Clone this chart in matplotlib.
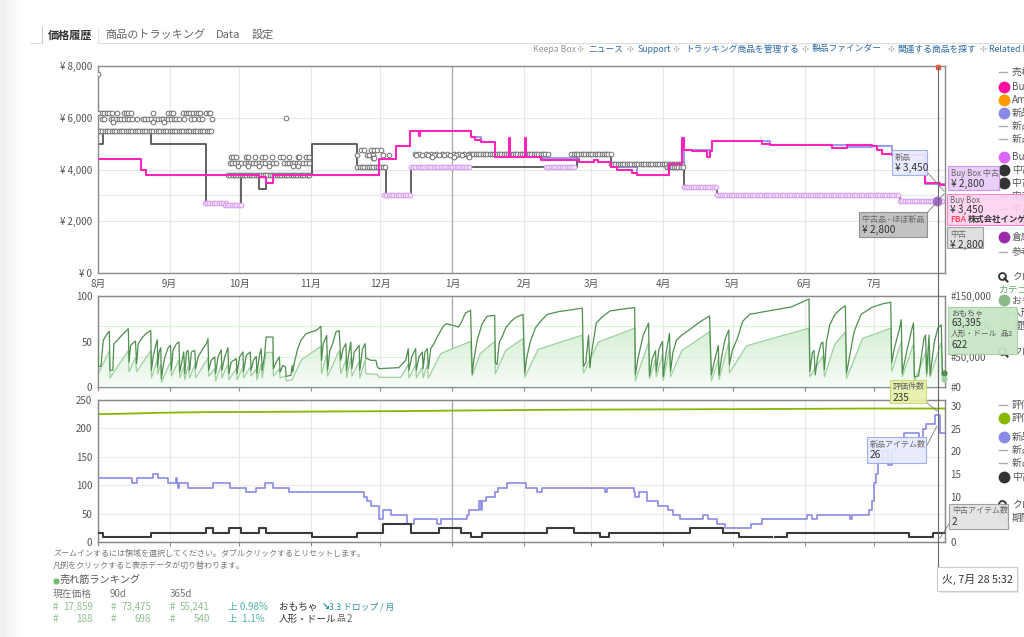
import numpy as np
import pandas as pd
import matplotlib
matplotlib.use('Agg')
import matplotlib.pyplot as plt
from matplotlib.patches import Rectangle
from matplotlib.lines import Line2D
from matplotlib.colors import LinearSegmentedColormap

plt.rcParams['font.family'] = ['Noto Sans CJK JP', 'DejaVu Sans']

# ---------------- data ----------------
start = pd.Timestamp('2019-08-01')
month_starts = pd.date_range('2019-08-01', '2020-07-01', freq='MS')
month_days = [(m - start).days for m in month_starts]
month_labels = [f'{m.month}月' for m in month_starts]
cursor_day = (pd.Timestamp('2020-07-28 05:32') - start) / pd.Timedelta(days=1)
x_end = 365.6

# Buy Box price (steps)
buybox_days = [0, 18.8, 20.8, 69.8, 72.7, 75.6, 121.4, 128.9, 134.8, 138.6, 139.2, 161, 163, 165.2,
               171.3, 177.3, 177.8, 184.3, 184.8, 191.2, 207.7, 214.2, 216, 221.3, 224.2, 230.7,
               232.8, 246.5, 252.3, 252.8, 256.5, 263, 264, 265.2, 286.7, 290.3, 316.8, 323.3,
               334, 336.2, 338.3, 342.6, 357, 363.4, 366]
buybox_prices = [4400, 4000, 3800, 3700, 3480, 3800, 4400, 4900, 5500, 5300, 5500, 5250, 5150, 5050,
                 4480, 5200, 4480, 5200, 4480, 4380, 4290, 4350, 4290, 4100, 3970, 3870,
                 3800, 4220, 5200, 4770, 4700, 4480, 4700, 5100, 5000, 4960, 4830, 4960,
                 4900, 4740, 4610, 4550, 3480, 3390, 3390]

# 新品 price (mostly hidden below the Buy Box)
new_days = [0, 18.8, 20.8, 121.4, 128.9, 134.8, 161, 165.2, 171.3, 191.2, 207.7, 214, 216, 221.3,
            232.8, 246.5, 252.9, 265.2, 290.3, 323.3, 334, 342.6, 357, 366]
new_prices = [4400, 4000, 3800, 4400, 4900, 5500, 5250, 5050, 4480, 4450, 4290, 4350, 4290, 4100,
              3800, 4220, 4770, 5100, 4960, 4870, 4900, 4550, 3450, 3450]

# 中古 price (steps)
used_days = [0, 2.4, 22.8, 46.9, 54.8, 61.9, 69.8, 72.7, 92.3, 111.7, 124.3, 135, 206.9, 221.3,
             252.9, 267.3, 346.2, 366]
used_prices = [5000, 5500, 5000, 2700, 2620, 3800, 3250, 3800, 5000, 4100, 3000, 4100, 4600, 4230,
               3320, 3000, 2750, 2750]

# 中古 offers, rows of daily points (start day, end day, price)
used_rows = [(0, 49.7, 5500), (56.2, 92.0, 3800), (112.0, 124.3, 4100), (160.1, 194.1, 4600),
             (204.4, 222.0, 4600), (221.3, 252.9, 4230), (245.6, 252.9, 4100)]
# scattered 中古 offers, grouped by price
off_7700 = [0.3]
off_6200 = [0.7, 1.7, 2.9, 3.9, 5.0, 6.0, 8.5, 11.3, 12.2, 13.2, 14.2, 23.7, 30.4, 31.5, 32.5,
            36.8, 37.9, 39.0, 40.0, 41.1, 42.2, 43.3, 44.3, 46.9, 47.9, 48.6]
off_6000 = [81.3]
off_5950 = [1.7, 2.7, 5.6, 6.7, 7.9, 9.0, 10.2, 11.3, 12.5, 13.6, 14.8, 17.1, 19.4, 20.5, 21.6,
            22.8, 24.8, 25.9, 27.1, 28.2, 29.4, 30.5, 31.7, 32.8, 34.0, 35.1, 37.3, 40.4, 41.4,
            43.7, 44.9, 49.2]
off_5850 = [6.5, 24.0, 28.5]
off_4750 = [113.5, 115.0, 117.8, 119.3, 120.7, 122.2]
off_4600 = [136.9, 138.6, 141.5, 143.7, 145.8, 148.7, 150.8, 153.7, 155.9, 158.0]
off_4550 = [112.1, 116.4, 117.1, 118.6, 122.9, 125.7, 137.2, 140.0, 142.5, 145.0, 147.3, 149.4,
            152.0, 154.6, 157.0, 159.6]
off_4500 = [57.6, 58.4, 59.8, 64.1, 64.8, 67.7, 71.0, 72.0, 75.3, 78.8, 79.9, 82.7, 86.3, 87.0,
            89.8, 91.0]
off_4480 = [144.4, 153.7, 160.1]
off_4450 = [118.6, 119.3]
off_4250 = [56.9, 58.1, 59.1, 60.5, 61.9, 63.4, 64.8, 65.8, 67.0, 68.4, 69.8, 71.0, 72.0, 74.1,
            75.6, 77.0, 80.6, 81.6, 82.7, 83.9, 84.9, 85.9, 87.0, 88.5, 89.9, 91.3]
off_4150 = [60.5, 64.8, 69.8, 74.1, 84.2, 86.3]

# Buy Box 中古 offers, rows of daily points
bb_used_rows = [(46.2, 55.5, 2700), (54.8, 62.7, 2620), (123.6, 135, 3000), (135, 160.9, 4100),
                (193.4, 205.6, 4100), (252.9, 267.3, 3320), (267.3, 346.2, 3000), (346.2, 365, 2800)]

# sales rank おもちゃ (day, rank in thousands)
toy_rank = [
    (0, 77), (0.3, 34), (1.4, 34), (2.4, 77), (3.6, 85), (5.0, 92),
    (5.3, 27.5), (6.5, 27.5), (7.0, 71.5), (8.5, 77), (10.3, 85), (11.8, 90.7), (13.2, 96),
    (13.5, 41), (14.2, 68.7), (16.3, 75.8),
    (16.8, 38.5), (17.5, 71.5), (18.9, 79.7), (20.8, 88), (22.9, 93),
    (23.2, 27.5), (23.9, 49.5), (24.7, 63.2), (25.7, 78),
    (25.9, 33), (26.5, 57.7), (27.2, 64.8),
    (27.5, 13.7), (28.2, 33), (29, 49.5), (30.4, 64.8), (31.4, 68.7),
    (31.8, 27.5), (32.5, 60.4), (34, 71.5), (35.1, 74),
    (35.4, 24.7), (36.6, 46.7), (37.1, 57.7),
    (37.6, 22), (38.3, 57.7), (39.0, 60.4),
    (39.7, 27.5), (40.4, 57.7), (41.9, 60.4),
    (42.3, 30.2), (43.3, 49.5), (45.4, 63.2), (46.9, 71.5), (47.6, 79.7),
    (47.9, 27.5), (49, 44), (50.5, 49.5),
    (50.9, 22), (51.9, 49.5), (53.3, 61.5),
    (53.6, 27.5), (54.8, 49.5), (56.2, 64.8),
    (56.6, 22), (57.6, 41), (59.8, 46.7),
    (60.1, 22), (61.2, 49.5), (62.7, 57.7),
    (62.9, 24.7), (64.1, 52.2), (65.8, 57.7),
    (66.2, 27.5), (67.2, 44), (68.4, 50.5),
    (68.7, 22), (69.8, 52.2), (70.5, 63.2),
    (71, 27.5), (72, 52.2), (72.7, 82.4), (75.6, 82.4),
    (75.8, 30.2), (77, 41), (78.4, 49.5),
    (78.7, 24.7), (79.9, 35.7), (81, 33),
    (81.3, 17.6), (83.4, 19.2), (83.9, 35.7),
    (84.2, 24.7), (84.9, 41), (86.3, 63.2), (87.7, 77), (89.9, 88), (92, 90.7), (94.2, 93), (96.3, 100),
    (96.6, 44), (97.3, 71.5), (98.8, 85),
    (99.2, 27.5), (100.2, 60.4), (101.4, 71.5), (102.8, 90.7), (104.2, 93),
    (104.9, 44), (105.9, 63.2), (107.1, 71.5),
    (107.4, 27.5), (108.2, 52.2), (109.2, 74),
    (109.7, 30.2), (110.7, 57.7), (112.8, 68.7),
    (113.1, 27.5), (114.3, 63.2), (115.4, 71.5),
    (115.7, 46.7), (116.4, 46.7), (117.8, 44), (120, 44),
    (120.7, 33), (121.4, 30.2), (130, 31.9),
    (130.8, 35.7), (132.9, 44), (134, 63.2),
    (134.3, 27.5), (135.5, 49.5), (137.2, 63.2),
    (137.5, 27.5), (138.6, 49.5), (140.1, 57.7),
    (140.4, 30.2), (141.2, 57.7), (142.2, 63.2),
    (142.7, 30.2), (143.7, 63.2), (145.1, 71.5), (146.5, 82.4), (148, 93), (149.4, 101.6),
    (150.8, 104.4), (153, 101.6), (155.6, 98.9), (156.6, 104.4), (158.7, 122), (160.9, 126.4),
    (161.6, 22), (162.3, 44), (163.7, 77), (165.9, 104.4), (168, 116.5), (171.3, 118.1),
    (171.6, 40), (172.3, 37), (173.3, 74), (174.5, 82.7), (176, 97), (178.3, 108), (180.5, 115), (183.5, 119.7),
    (184.3, 22.8), (185, 45.6), (186.6, 74), (188.8, 97), (191, 108), (194, 119.7), (198.6, 124),
    (203.1, 126.5), (209.1, 130),
    (209.6, 34), (210.6, 40), (211.8, 85.5), (212.4, 31.4), (212.9, 51.3), (215.1, 105.5), (218.1, 117),
    (221.1, 125.4), (225.7, 128), (231.7, 131),
    (232, 20), (233.2, 48.5), (235.4, 85.5), (237.7, 105.5),
    (238.1, 18.2), (239.2, 45.6), (240.7, 60),
    (241, 25.7), (242.2, 62.7), (243.7, 75.2),
    (244, 17), (245.2, 54), (246.7, 88.4),
    (247.2, 25.7), (248.2, 57), (249.7, 77), (252, 85.5), (254.2, 91.2), (257.2, 99.8), (260.2, 108.3), (264, 117),
    (264.8, 20), (266.3, 45.6), (267.8, 68.4),
    (268.1, 20), (269.3, 51.3), (270.8, 79.8), (272.3, 94),
    (272.6, 37), (273.8, 60), (276, 79.8), (278.3, 108.3), (281.3, 119.7), (287.3, 124), (293.3, 128),
    (299.3, 132), (303.8, 139.7), (306.9, 145),
    (307.3, 25.7), (308.4, 57), (309.1, 60),
    (309.6, 20), (310.6, 48.5), (312.1, 71.3), (312.9, 74),
    (313.6, 28.5), (314.4, 74), (315.9, 102.6), (318.1, 119.7), (320.4, 128), (322.6, 134),
    (323.1, 22.8), (324.2, 45.6), (326.4, 91.2), (329.4, 119.7), (333.9, 131), (338.4, 136.8), (342.2, 139.7),
    (342.6, 40), (343.7, 62.7), (346, 97), (346.7, 111),
    (347.2, 22.8), (349, 57), (351.2, 94), (352, 105.5),
    (352.4, 17), (354.2, 18.2), (355, 40), (356.5, 79.8), (357.2, 85.5),
    (357.7, 22.8), (358.7, 85.5),
    (359.2, 20), (361, 74), (362.5, 97), (364, 102.6),
    (364.5, 22.8), (365.5, 22.8)]

# sales rank 人形・ドール (day, rank in the shared scale)
doll_rank = [
    (0, 52), (0.3, 22), (5.0, 60), (5.3, 15), (13.2, 60), (13.5, 25), (16.3, 48), (16.8, 25),
    (22.9, 60), (23.2, 15), (25.7, 45), (25.9, 22), (27.2, 37), (27.5, 8), (31.4, 42), (31.8, 18),
    (35.1, 45), (35.4, 15), (37.1, 33), (37.6, 12), (39.0, 35), (39.7, 15), (41.9, 37), (42.3, 15),
    (47.6, 48), (47.9, 18), (50.5, 30), (50.9, 10), (53.3, 37), (53.6, 15), (56.2, 38), (56.6, 12),
    (59.8, 30), (60.1, 12), (62.7, 33), (62.9, 15), (65.8, 33), (66.2, 18), (68.4, 30), (68.7, 12),
    (70.5, 37), (71, 15), (72.7, 57), (75.6, 57), (75.8, 18), (78.4, 30), (78.7, 15), (81, 18),
    (81.3, 10), (83.9, 12), (84.2, 15), (88, 45), (96.3, 67), (96.6, 22), (98.8, 54), (99.2, 18),
    (104.2, 60), (104.9, 22), (107.1, 45), (107.4, 15), (109.2, 48), (109.7, 18), (112.8, 42),
    (113.1, 15), (115.4, 45), (115.7, 22), (120.7, 21), (121.4, 16), (130.8, 16), (134, 37),
    (134.3, 15), (137.2, 37), (137.5, 15), (140.1, 33), (140.4, 15), (142.2, 37), (142.7, 15),
    (148, 55), (153, 63), (160.9, 75), (161.6, 18), (165, 55), (171.3, 75), (171.6, 22), (176, 60),
    (183.5, 80), (184.3, 16), (190, 62), (209.1, 85.5), (209.6, 23), (216, 74), (231.7, 97),
    (232, 10), (237.7, 74), (238.1, 14), (240.7, 45.6), (241, 17), (243.7, 54), (244, 11),
    (246.7, 62.7), (247.2, 17), (252, 60), (264, 91), (264.8, 10), (267.8, 45.6), (268.1, 12.5),
    (272.3, 74), (272.6, 23), (280, 68), (306.9, 97), (307.3, 17), (312.9, 51), (313.6, 17),
    (318, 70), (322.6, 91), (323.1, 14), (330, 80), (342.2, 97), (342.6, 25.6), (346.7, 74),
    (347.2, 17), (352, 71), (352.4, 8.5), (357.2, 57), (357.7, 17), (358.7, 57), (359.2, 17),
    (364, 74), (364.5, 12.5), (365.5, 12.5)]

# 評価件数 (left axis)
rating_days = [0, 7, 18, 27, 44, 133, 157, 205, 284, 332, 366]
rating_counts = [225, 225.5, 226.5, 227.5, 228.5, 230.5, 231.5, 233, 234, 235, 235]

# 新品アイテム数 (right axis, steps)
new_cnt_days = [0, 14.6, 16.8, 23.9, 26.1, 30.4, 33.7, 34.2, 34.7, 35.2, 39, 49.7, 56.9, 64.1,
                68.4, 72, 75.6, 82.7, 115, 116.4, 117.8, 121.4, 122.9, 126.5, 133.6, 136.5,
                146.5, 148, 159.4, 160.1, 164.4, 165.3, 166, 167.6, 171.3, 172.8, 176.6, 184.8,
                189.4, 191.7, 219.1, 219.6, 231.2, 231.9, 233.4, 237.2, 241.6, 246.1, 248.4,
                251.4, 261.1, 263.3, 267.1, 270.8, 282, 286.5, 305.9, 308.2, 310.4, 324.6,
                325.3, 332.8, 334.3, 335.1, 335.8, 336.6, 338.8, 341.1, 342.6, 344.1, 347.1,
                347.8, 354.5, 356, 357.5, 361.2, 363.5, 366]
new_cnt = [14, 13, 14, 15, 14, 13, 14, 13, 12, 13, 12, 13, 12, 11,
           12, 13, 12, 11, 10, 9, 8, 5, 7, 6, 4, 5,
           4, 5, 6, 7, 9, 7, 9, 10, 11, 12, 13, 12,
           11, 12, 11, 12, 11, 10, 11, 9, 8, 7, 6,
           5, 6, 5, 4, 3, 4, 5, 6, 5, 6, 5,
           6, 7, 9, 13, 15, 18, 20, 17, 20, 22, 23,
           24, 23, 25, 26, 28, 24, 24]

# 中古アイテム数 (right axis, steps)
used_cnt_days = [0, 2.4, 22.8, 46.9, 49.7, 56.6, 61.9, 69.8, 72.7, 92.3, 111.7, 122.9, 135, 147.2,
                 156.6, 160.9, 165.9, 193.7, 205.6, 216.8, 220.6, 255.7, 269.9, 276.6, 290.8,
                 292.3, 297.6, 350, 360.5, 366]
used_cnt = [2, 1, 2, 3, 2, 3, 2, 3, 2, 1, 2, 4, 2, 3, 2, 1, 2, 3, 2, 1, 2, 3, 2, 1, np.nan,
            1, 2, 1, 2, 2]

# ranking table under the chart
rank_now = ['17,859', '188']
rank_90d = ['73,475', '698']
rank_365d = ['55,241', '540']
rank_change = ['上 0.98%', '上  1.1%']
rank_category = ['おもちゃ', '人形・ドール']

# ---------------- figure ----------------
W, H = 1024, 637
fig = plt.figure(figsize=(W / 100, H / 100), dpi=100)


def fx(x):
    return x / W


def fy(y):
    return 1 - y / H


def rect(x0, y0, x1, y1):
    return [fx(x0), fy(y1), (x1 - x0) / W, (y1 - y0) / H]


def txt(x, y, s, size=7, color='#555555', **kw):
    kw.setdefault('va', 'center')
    return fig.text(fx(x), fy(y), s, fontsize=size, color=color, **kw)


def fline(xs, ys, color, lw=0.8, z=5, **kw):
    fig.add_artist(Line2D([fx(v) for v in xs], [fy(v) for v in ys], color=color, lw=lw,
                          zorder=z, transform=fig.transFigure, **kw))


def fbox(x0, y0, x1, y1, fc, ec, z=20, alpha=1.0, lw=0.8):
    fig.add_artist(Rectangle((fx(x0), fy(y1)), (x1 - x0) / W, (y1 - y0) / H,
                             transform=fig.transFigure, facecolor=fc, edgecolor=ec, lw=lw,
                             zorder=z, alpha=alpha))


def tooltip(x0, y0, x1, y1, fc, ec, label, value):
    fbox(x0, y0, x1, y1, fc, ec, alpha=0.92)
    txt(x0 + 3, y0 + 7, label, size=5.8, color='#666666', zorder=21)
    txt(x0 + 3, y0 + 18, value, size=7.3, color='#333333', zorder=21)


def style(ax, labels=False):
    ax.set_xlim(0, x_end)
    ax.set_xticks(month_days)
    ax.grid(axis='x', color='#e8e8e8', lw=0.8)
    ax.axvline(month_days[5], color='#a8a8a8', lw=0.9, zorder=1)
    for s in ax.spines.values():
        s.set_color('#8a8a8a')
        s.set_linewidth(1.0)
    ax.tick_params(axis='y', length=0, pad=4, labelsize=7, labelcolor='#555555')
    if labels:
        ax.set_xticklabels(month_labels)
        ax.tick_params(axis='x', length=0, pad=4, labelsize=7, labelcolor='#555555')
    else:
        ax.set_xticklabels([])
        ax.tick_params(axis='x', length=3, color='#8a8a8a')
    ax.set_axisbelow(True)


# ---- price panel ----
ax1 = fig.add_axes(rect(97.7, 66, 945, 273))
style(ax1, labels=True)
ax1.set_ylim(0, 8000)
ax1.set_yticks([0, 2000, 4000, 6000, 8000])
ax1.set_yticklabels([f'¥ {v:,}' for v in [0, 2000, 4000, 6000, 8000]])
ax1.grid(axis='y', color='#e8e8e8', lw=0.8)
ax1.axhline(3000, color='#e8e8e8', lw=0.8, zorder=0)


def expand(rows):
    xs, ys = [], []
    for a, b, v in rows:
        d = np.arange(a, b + 0.01, 1.0)
        xs.extend(d)
        ys.extend([v] * len(d))
    return xs, ys


gx, gy = expand(used_rows)
for price, days in [(7700, off_7700), (6200, off_6200), (6000, off_6000), (5950, off_5950),
                    (5850, off_5850), (4750, off_4750), (4600, off_4600), (4550, off_4550),
                    (4500, off_4500), (4480, off_4480), (4450, off_4450), (4250, off_4250),
                    (4150, off_4150)]:
    gx.extend(days)
    gy.extend([price] * len(days))
vx, vy = expand(bb_used_rows)

ax1.plot(used_days, used_prices, drawstyle='steps-post', color='#555555', lw=1.3, zorder=2)
ax1.plot(new_days, new_prices, drawstyle='steps-post', color='#8a8ae6', lw=1.2, zorder=2.5)
ax1.plot(gx, gy, ls='none', marker='o', ms=3.4, mfc='white', mec='#6e6e6e', mew=0.7, zorder=3)
ax1.plot(vx, vy, ls='none', marker='o', ms=3.4, mfc='#f7e6fc', mec='#d59ef0', mew=0.7, zorder=3.2)
ax1.plot(buybox_days, buybox_prices, drawstyle='steps-post', color='#ff22bb', lw=1.5, zorder=4)
ax1.plot([cursor_day], [2800], marker='o', ms=6, color='#a66ad0', zorder=5)
ax1.plot([cursor_day + 0.2], [7960], marker='s', ms=3, color='#ff5a3c', zorder=5, clip_on=False)

# ---- sales rank panel ----
ax2 = fig.add_axes(rect(97.7, 296, 945, 387))
style(ax2)
ax2.set_ylim(0, 100)
ax2.set_yticks([0, 50, 100])
ax2r = ax2.twinx()
ax2r.set_xlim(0, x_end)
ax2r.set_ylim(0, 150)
ax2r.set_yticks([0, 50, 100, 150])
ax2r.set_yticklabels(['#0', '#50,000', '#100,000', '#150,000'])
ax2r.tick_params(axis='y', length=0, pad=4, labelsize=7, labelcolor='#555555')
ax2r.grid(axis='y', color='#d9f2d9', lw=0.8)
for s in ax2r.spines.values():
    s.set_color('#8a8a8a')

tx = [p[0] for p in toy_rank]
ty = [p[1] for p in toy_rank]
dx = [p[0] for p in doll_rank]
dy = [p[1] for p in doll_rank]
poly = ax2r.fill_between(dx, dy, 0, facecolor='none', edgecolor='none')
cm = LinearSegmentedColormap.from_list('g', ['#f6fcf6', '#c5e8c5'])
img = ax2r.imshow(np.linspace(0, 1, 256).reshape(-1, 1), cmap=cm, aspect='auto', origin='lower',
                  extent=[0, x_end, 0, 150], zorder=1)
img.set_clip_path(poly.get_paths()[0], transform=ax2r.transData)
ax2r.plot(dx, dy, color='#9fd09f', lw=0.9, zorder=2)
ax2r.plot(tx, ty, color='#4f8f4f', lw=0.9, zorder=3)
ax2r.plot([x_end - 0.3], [ty[-1]], marker='o', ms=3.5, color='#4f8f4f', clip_on=False, zorder=4)
ax2r.plot([x_end - 0.3], [dy[-1]], marker='o', ms=3.5, color='#9fd09f', clip_on=False, zorder=4)
ax2r.set_xlim(0, x_end)
ax2r.set_ylim(0, 150)

# ---- counts panel ----
ax3 = fig.add_axes(rect(97.7, 400, 945, 542))
style(ax3)
ax3.set_ylim(0, 250)
ax3.set_yticks([0, 50, 100, 150, 200, 250])
ax3.grid(axis='y', color='#ececec', lw=0.8)
ax3r = ax3.twinx()
ax3r.set_xlim(0, x_end)
ax3r.set_ylim(0, 31.3)
ax3r.set_yticks([0, 5, 10, 15, 20, 25, 30])
ax3r.tick_params(axis='y', length=0, pad=4, labelsize=7, labelcolor='#555555')
for s in ax3r.spines.values():
    s.set_color('#8a8a8a')
ax3.plot(rating_days, rating_counts, color='#88b800', lw=1.3, zorder=3)
ax3r.plot(new_cnt_days, new_cnt, drawstyle='steps-post', color='#8a8ae6', lw=1.2, zorder=3)
ax3r.plot(used_cnt_days, used_cnt, drawstyle='steps-post', color='#3a3a3a', lw=1.5, zorder=3)

# ---------------- header ----------------
for i, c in enumerate(['#efefef', '#f3f3f3', '#f7f7f7', '#fbfbfb']):
    fbox(i * 5, 0, i * 5 + 5, 637, c, 'none', z=0, lw=0)
fline([30, 42], [43, 43], '#dddddd')
fline([98, 1024], [43, 43], '#dddddd')
fline([42, 42], [27, 43], '#cccccc')
fline([98, 98], [27, 43], '#e4e4e4')
txt(48, 35, '価格履歴', size=8, color='#333333', fontweight='bold')
txt(105, 35, '商品のトラッキング', size=8, color='#666666')
txt(216, 35, 'Data', size=8, color='#666666')
txt(252, 35, '設定', size=8, color='#666666')

links = [(533, 'Keepa Box', '#999999'), (588, 'ニュース', '#2f6aa6'), (638, 'Support', '#2f6aa6'),
         (685, 'トラッキング商品を管理する', '#2f6aa6'), (812, '製品ファインダー', '#2f6aa6'),
         (897, '関連する商品を探す', '#2f6aa6'), (989, 'Related Books', '#2f6aa6')]
for x, s, c in links:
    txt(x, 49, s, size=6.3, color=c)
for x in [577, 627, 673, 802, 888, 980]:
    txt(x, 49, '✣', size=6, color='#b0b0b0', family=['DejaVu Sans'])

# ---------------- legend on the right (cut off) ----------------
legend_items = [
    (72, 'line', '売れ筋ランキング'), (87, '#ff0aa0', 'Buy Box'), (100, '#ff9900', 'Amazon'),
    (113, '#8a8ae6', '新品'), (126, 'line', '新品 FBA'), (139, 'line', '新品 出品者'),
    (157, '#dd66ff', 'Buy Box 中古'), (170, '#333333', '中古'), (183, '#333333', '中古 - ほぼ新品'),
    (196, 'line', '中古 - 非常に良い'), (209, 'line', '中古 - 良い'), (222, 'line', '中古 - 可'),
    (237, '#9a2aaa', '倉庫'), (252, 'line', '参考価格'), (277, 'mag', 'クローズアップ'),
    (300, '#88bb88', 'おもちゃ'), (313, '#cfe8cf', '人形・ドール'), (326, '#eef0a0', '閲覧'),
    (352, 'mag', 'クローズアップ'),
    (405, 'line', '評価'), (418, '#88b800', '評価件数'), (437, '#8a8ae6', '新品アイテム数'),
    (450, 'line', '新品 FBA'), (463, 'line', '新品 FBM'), (477, '#333333', '中古アイテム数'),
    (505, 'mag', 'クローズアップ'), (518, 'cal', '期間')]
for y, kind, s in legend_items:
    if kind == 'line':
        fline([999, 1007], [y, y], '#aaaaaa', lw=1.0)
    elif kind == 'mag':
        fig.add_artist(Line2D([fx(1002)], [fy(y - 1)], marker='o', ms=5, mfc='none', mec='#333333',
                              mew=1.3, transform=fig.transFigure, zorder=5))
        fline([1004.5, 1007.5], [y + 1.5, y + 4.5], '#333333', lw=1.5)
    elif kind == 'cal':
        fbox(998, y - 4, 1007, y + 4, '#eeeeee', '#bbbbbb', z=5, lw=0.6)
    else:
        fig.add_artist(Line2D([fx(1003.5)], [fy(y)], marker='o', ms=7.5, color=kind,
                              transform=fig.transFigure, zorder=5))
    txt(1012, y, s, size=7, color='#555555', zorder=5)
txt(999, 289, 'カテゴリ', size=7, color='#6aaa6a', zorder=5)

# ---------------- tooltips ----------------
fline([937.5, 937.5], [66, 567], '#666666', lw=0.8, z=10)
tooltip(892, 150, 927, 175, '#e8ebff', '#9aa8ee', '新品', '¥ 3,450')
tooltip(859, 212, 927, 237, '#bdbdbd', '#8a8a8a', '中古品 - ほぼ新品', '¥ 2,800')
fline([927, 944], [172, 191], '#777777', lw=0.6, z=19)
fline([927, 944], [213, 194], '#777777', lw=0.6, z=19)
tooltip(948, 166, 999, 190, '#e8ccfa', '#c890ee', 'Buy Box 中古', '¥ 2,800')
fbox(947, 194, 1030, 225, '#ffd2ee', '#ff77cc', alpha=0.9)
txt(950, 200, 'Buy Box', size=5.8, color='#666666', zorder=21)
txt(950, 210, '¥ 3,450', size=7.3, color='#333333', zorder=21)
txt(950, 219.5, 'FBA', size=6, color='#ff4d6d', fontweight='bold', zorder=21)
txt(968, 219.5, '株式会社インゲート', size=6, color='#333333', fontweight='bold', zorder=21)
tooltip(947, 227, 983, 248, '#dddddd', '#999999', '中古', '¥ 2,800')

fbox(948, 307, 1017, 354, '#c6e6c6', '#a8d0a8', alpha=0.93)
txt(951, 313, 'おもちゃ', size=5.8, color='#555555', zorder=21)
txt(951, 323, '63,395', size=7.0, color='#333333', zorder=21)
txt(951, 334, '人形・ドール', size=5.6, color='#555555', zorder=21)
txt(1000, 334, '品', size=5.3, color='#555555', zorder=21)
txt(1008, 334, '2', size=5.5, color='#555555', zorder=21)
txt(951, 345, '622', size=7.0, color='#333333', zorder=21)

tooltip(890, 380, 926, 403, '#e8f0a8', '#c8d870', '評価件数', '235')
fline([926, 937], [402, 411], '#777777', lw=0.6, z=19)
tooltip(867, 437, 926, 463, '#e8ebff', '#9aa8ee', '新品アイテム数', '26')
fline([926, 937], [447, 426], '#777777', lw=0.6, z=19)
tooltip(949, 504, 1008, 529, '#e2e2e2', '#999999', '中古アイテム数', '2')
fline([949, 940], [524, 538], '#777777', lw=0.6, z=19)

fbox(939, 569, 1019, 593, '#dddddd', 'none', z=19, alpha=0.6)
fbox(937, 567, 1017, 591, 'white', '#cccccc', z=20)
txt(942, 579, '火, 7月 28 5:32', size=7.8, color='#333333', zorder=21)

# ---------------- notes & ranking table ----------------
txt(53, 553, 'ズームインするには領域を選択してください。ダブルクリックするとリセットします。', size=5.8, color='#777777')
txt(53, 565, '凡例をクリックすると表示データが切り替わります。', size=5.8, color='#777777')
fig.add_artist(Line2D([fx(56)], [fy(580.5)], marker='o', ms=3.5, color='#77bb77',
                      transform=fig.transFigure))
txt(60, 580, '売れ筋ランキング', size=7.3, color='#555555')
txt(53, 594, '現在価格', size=7, color='#777777')
txt(110, 594, '90d', size=7, color='#777777')
txt(170, 594, '365d', size=7, color='#777777')
green = '#8fbf8f'
for i, y in enumerate([607, 619]):
    txt(53, y, '#', size=7, color=green)
    txt(93, y, rank_now[i], size=7, color=green, ha='right')
    txt(111, y, '#', size=7, color=green)
    txt(151, y, rank_90d[i], size=7, color=green, ha='right')
    txt(170, y, '#', size=7, color=green)
    txt(210, y, rank_365d[i], size=7, color=green, ha='right')
    txt(228, y, rank_change[i], size=7, color='#4bb3a8')
    txt(279, y, rank_category[i], size=6.9, color='#333333')
txt(322, 607, '↘', size=7, color='#1f8f99', fontweight='bold', family=['DejaVu Sans'])
txt(329, 607, '3.3 ドロップ / 月', size=6.3, color='#2a8fa0')
txt(336, 619, '品', size=6.3, color='#666666')
txt(347, 619, '2', size=7, color='#666666')

fig.savefig('out.png', dpi=100)
